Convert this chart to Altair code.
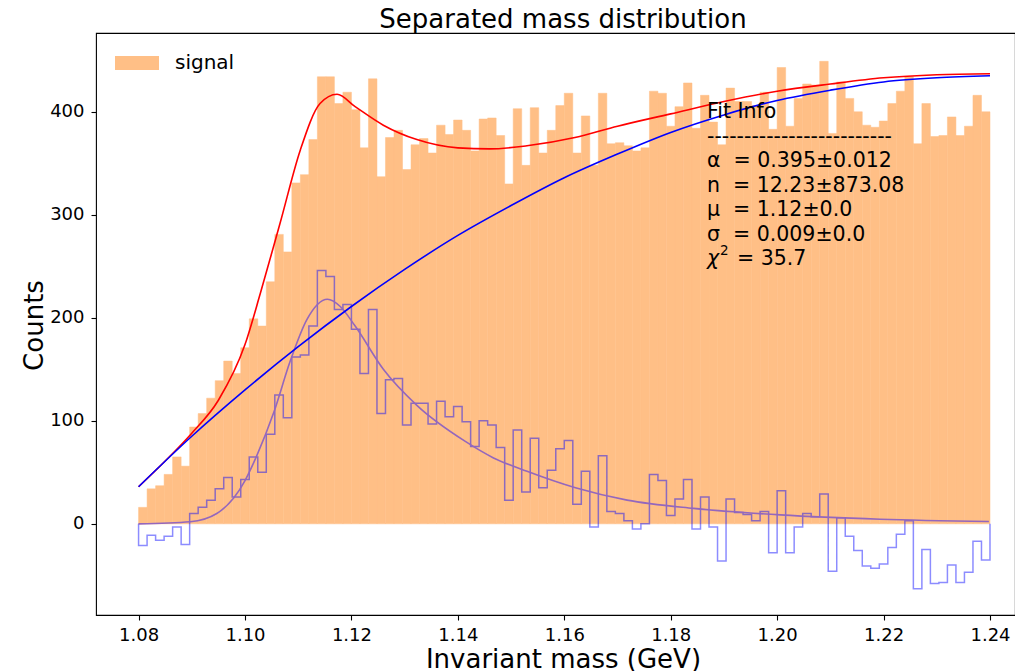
import altair as alt
import numpy as np
import pandas as pd

# ---------------- data ----------------
bin_edges = np.round(np.linspace(1.08, 1.24, 101), 5)

signal_counts = [
    16, 34, 37, 48, 65, 56, 94, 107, 122, 139,
    158, 146, 171, 199, 192, 235, 281, 264, 331, 339,
    373, 434, 434, 408, 419, 402, 365, 432, 337, 375,
    382, 344, 368, 374, 360, 387, 378, 392, 382, 362,
    393, 394, 377, 330, 403, 348, 404, 360, 382, 406,
    418, 360, 396, 348, 418, 369, 370, 367, 362, 365,
    420, 418, 386, 405, 428, 384, 416, 390, 368, 423,
    410, 410, 406, 419, 383, 443, 386, 413, 427, 426,
    449, 379, 429, 413, 400, 387, 385, 391, 408, 420,
    434, 369, 408, 376, 377, 395, 377, 386, 416, 400,
]

separated_counts = [
    -21, -11, -16, -12, -3, -20, 10, 16, 23, 34,
    45, 26, 43, 65, 50, 87, 125, 103, 162, 164,
    192, 246, 240, 208, 213, 189, 146, 208, 107, 140,
    141, 96, 117, 117, 97, 119, 104, 114, 99, 75,
    100, 96, 74, 23, 91, 31, 83, 35, 52, 73,
    81, 19, 51, -3, 66, 12, 10, 3, -5, 0,
    48, 42, 8, 24, 43, -5, 26, -3, -36, 24,
    11, 9, 3, 12, -28, 32, -28, -3, 10, 7,
    29, -46, 6, -12, -26, -41, -43, -39, -23, -10,
    3, -63, -25, -58, -57, -40, -57, -47, -17, -35,
]

total_x = [1.08, 1.085, 1.09, 1.095, 1.100, 1.1029, 1.1066, 1.1104,
           1.1141, 1.1173, 1.1207, 1.1260, 1.1323, 1.140, 1.146, 1.153,
           1.162, 1.170, 1.180, 1.190, 1.200, 1.210, 1.220, 1.230, 1.240]
total_y = [36, 61, 88, 120, 174, 224, 292, 363,
           408, 417, 405, 387, 373, 365, 364, 367,
           375, 386, 398, 410, 420, 427, 433, 436, 437]

bkg_x = [1.08, 1.09, 1.10, 1.11, 1.12, 1.13, 1.14, 1.15, 1.16,
         1.17, 1.18, 1.19, 1.20, 1.21, 1.22, 1.23, 1.24]
bkg_y = [36, 85, 130, 172, 211, 247, 280, 309, 336,
         359, 380, 397, 411, 421, 429, 433, 435]

peak_x = [1.08, 1.0897, 1.0947, 1.1000, 1.1022, 1.1054, 1.1085,
          1.1116, 1.1155, 1.1179, 1.1207, 1.1260, 1.1323, 1.1414, 1.1467,
          1.1530, 1.1621, 1.1718, 1.1843, 1.2006, 1.2194, 1.2398]
peak_y = [0, 2, 10, 42, 66, 108, 158,
          198, 218, 211, 192, 150, 115, 80, 64,
          51, 35, 23, 15, 8.7, 4.5, 2.3]

fit_lines = [
    "Fit Info",
    "-------------------------",
    "\u03b1\u00a0\u00a0= 0.395\u00b10.012",
    "n\u00a0\u00a0= 12.23\u00b1873.08",
    "\u03bc\u00a0\u00a0= 1.12\u00b10.0",
    "\u03c3\u00a0\u00a0= 0.009\u00b10.0",
]

# ---------------- layout ----------------
FONT = "DejaVu Sans"
W, H = 919, 582
PAD = {"left": 96, "top": 33, "right": 0, "bottom": 56}
xs = alt.Scale(domain=[1.072, 1.2447], nice=False, zero=False)
ys = alt.Scale(domain=[-88.5, 476.5], nice=False, zero=False)

ax_x = alt.Axis(values=[1.08, 1.10, 1.12, 1.14, 1.16, 1.18, 1.20, 1.22, 1.24],
                format=".2f", titleX=467, titleY=52, titleBaseline="alphabetic",
                titleAlign="center", labelPadding=6)
ax_y = alt.Axis(values=[0, 100, 200, 300, 400], titleX=-54, titleY=292,
                titleBaseline="alphabetic", titleAlign="center")
XT = "Invariant mass (GeV)"
YT = "Counts"


def X(field):
    return alt.X(field, type="quantitative", scale=xs, axis=ax_x, title=XT)


def Y(field):
    return alt.Y(field, type="quantitative", scale=ys, axis=ax_y, title=YT)


hist_df = pd.DataFrame({"x0": bin_edges[:-1], "x1": bin_edges[1:], "count": signal_counts})
bars = alt.Chart(hist_df).mark_bar(color="#ffbf86", stroke="#ffbf86", strokeWidth=0.5).encode(
    x=X("x0"), x2="x1", y=Y("count"), y2=alt.datum(0)
)

step_x = [1.08] + list(bin_edges[:-1]) + [1.24, 1.24]
step_y = [0] + list(separated_counts) + [separated_counts[-1], 0]
step_df = pd.DataFrame({"x": step_x, "y": step_y, "idx": range(len(step_x))})
step = alt.Chart(step_df).mark_line(
    interpolate="step-after", color="blue", opacity=0.45, strokeWidth=1.5
).encode(x=X("x"), y=Y("y"), order=alt.Order("idx:Q"))


def curve(xv, yv, color, width=1.6):
    df = pd.DataFrame({"x": xv, "y": yv})
    return alt.Chart(df).mark_line(interpolate="monotone", color=color,
                                   strokeWidth=width).encode(x=X("x"), y=Y("y"))


peak = curve(peak_x, peak_y, "#9467bd", 1.6)
total = curve(total_x, total_y, "red", 1.6)
bkg = curve(bkg_x, bkg_y, "blue", 1.6)

one = pd.DataFrame({"a": [0]})

title = alt.Chart(one).mark_text(
    text="Separated mass distribution", font=FONT, fontSize=26, align="center",
    baseline="alphabetic", color="black"
).encode(x=alt.value(467), y=alt.value(-5))

legend_patch = alt.Chart(one).mark_rect(color="#ffbf86").encode(
    x=alt.value(19), x2=alt.value(63), y=alt.value(23), y2=alt.value(37)
)
legend_text = alt.Chart(one).mark_text(
    text="signal", font=FONT, fontSize=20, align="left", baseline="middle", color="black"
).encode(x=alt.value(79), y=alt.value(30))

fit_y = [85, 109.5, 134, 158.5, 183, 207.5]
fit_layers = []
for t, yy in zip(fit_lines, fit_y):
    fit_layers.append(
        alt.Chart(one).mark_text(text=t, font=FONT, fontSize=20.5, align="left",
                                 baseline="alphabetic", color="black")
        .encode(x=alt.value(611), y=alt.value(yy))
    )
chi = alt.Chart(one).mark_text(text="\u03c7", font=FONT, fontSize=20.5, fontStyle="italic",
                               align="left", baseline="alphabetic", color="black").encode(
    x=alt.value(611), y=alt.value(232))
chi_sup = alt.Chart(one).mark_text(text="2", font=FONT, fontSize=13.5, align="left",
                                   baseline="alphabetic", color="black").encode(
    x=alt.value(624), y=alt.value(222))
chi_val = alt.Chart(one).mark_text(text="= 35.7", font=FONT, fontSize=20.5, align="left",
                                   baseline="alphabetic", color="black").encode(
    x=alt.value(641), y=alt.value(232))

chart = alt.layer(
    bars, step, peak, total, bkg, title, legend_patch, legend_text, *fit_layers,
    chi, chi_sup, chi_val
).properties(
    width=W, height=H, padding=PAD, autosize=alt.AutoSizeParams(type="none")
).configure(font=FONT).configure_view(
    stroke="black", strokeWidth=1.1
).configure_axis(
    grid=False, domain=False, tickColor="black", tickSize=5, tickWidth=1.1,
    labelFont=FONT, labelFontSize=18, labelColor="black", labelPadding=7,
    titleFont=FONT, titleFontSize=26, titleFontWeight="normal", titleColor="black",
)

chart.save("out.html", embed_options={"renderer": "svg", "actions": False})
